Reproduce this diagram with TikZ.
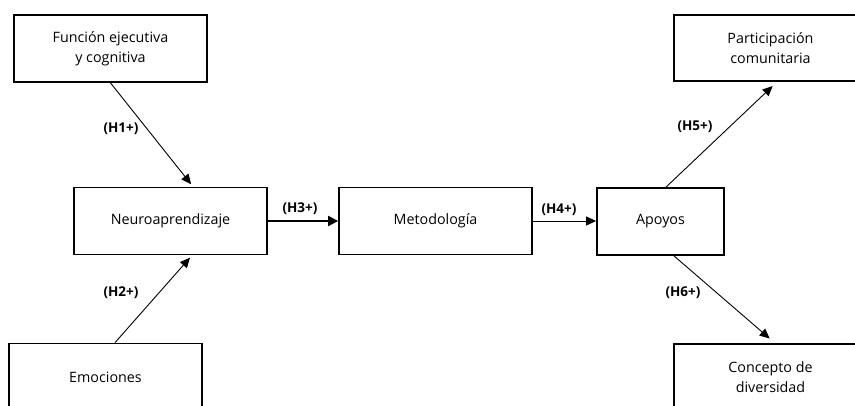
\documentclass[tikz,border=0pt]{standalone}
\usepackage{fontspec}
\setmainfont{Open Sans}
\usetikzlibrary{arrows.meta}
\begin{document}
\begin{tikzpicture}[x=1pt,y=-1pt,
  box/.style={draw,line width=1.8pt,minimum width=193pt,minimum height=67pt,inner sep=0pt,align=center,font=\fontsize{14.3}{20}\selectfont},
  conn/.style={line width=0.9pt,-{Triangle[length=10pt,width=9pt]}},
  thick conn/.style={line width=2.2pt,-{Triangle[length=10pt,width=10pt]}},
  hlab/.style={font=\bfseries\fontsize{13.5}{16}\selectfont}]
\useasboundingbox (0,0) rectangle (855,405);
\clip (0,0) rectangle (855,405);
\node[box] (f) at (110.5,48.5) {Función ejecutiva\\y cognitiva};
\node[box] (n) at (170.5,221) {Neuroaprendizaje};
\node[box] (e) at (105.5,377) {Emociones};
\node[box] (m) at (435.5,221) {Metodología};
\node[box,minimum width=127pt] (a) at (660.5,221.5) {Apoyos};
\node[box,minimum height=66pt] (p) at (770.5,48) {Participación\\comunitaria};
\node[box] (c) at (770.5,377.5) {Concepto de\\diversidad};
\draw[conn,shorten >=3pt] (f.south) -- ([xshift=22.5pt]n.north);
\draw[conn,shorten >=3pt] ([xshift=9.5pt]e.north) -- ([xshift=21.5pt]n.south);
\draw[thick conn] (n.east) -- (m.west);
\draw[conn] (m.east) -- (m.east -| a.west);
\draw[conn,shorten >=6pt] ([xshift=5.5pt]a.north) -- ([xshift=6.5pt]p.south);
\draw[conn,shorten >=7pt] ([xshift=13.5pt]a.south) -- ([xshift=4.5pt]c.north);
\node[hlab] (l1) at (121,129) {(H1+)};
\node[hlab] (l2) at (121,293) {(H2+)};
\node[hlab] (l3) at (300,209) {(H3+)};
\node[hlab] (l4) at (559,210) {(H4+)};
\node[hlab] (l5) at (695,127) {(H5+)};
\node[hlab] (l6) at (683,293) {(H6+)};
\end{tikzpicture}
\end{document}
